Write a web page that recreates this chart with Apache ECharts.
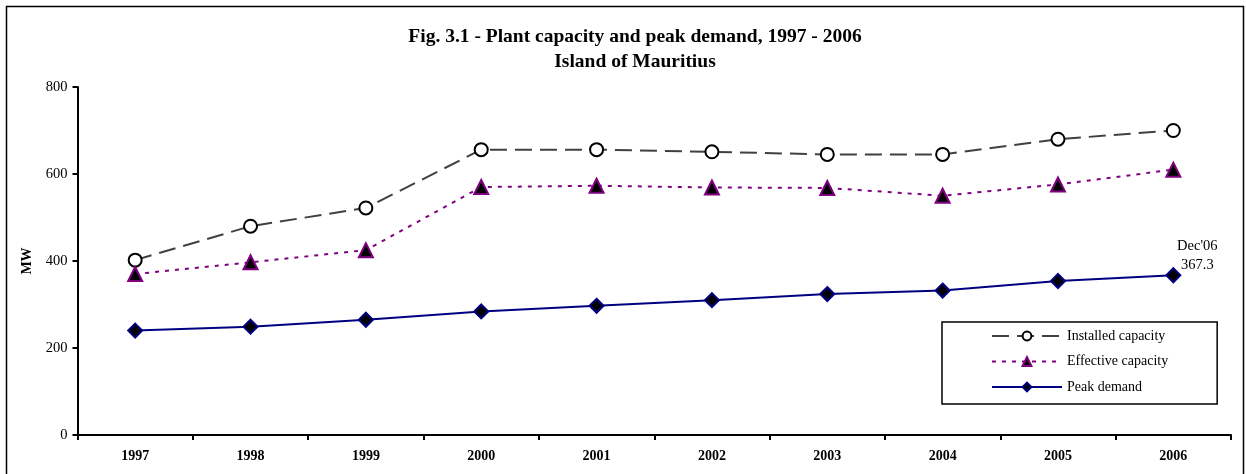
<!DOCTYPE html>
<html>
<head>
<meta charset="utf-8">
<script src="https://cdn.jsdelivr.net/npm/echarts@6/dist/echarts.min.js"></script>
<style>
	html, body { margin: 0; padding: 0; background: #fff; }
	#chart { width: 1246px; height: 474px; }
</style>
</head>
<body>
<div id="chart"></div>
<script>
// data
const years = ['1997', '1998', '1999', '2000', '2001', '2002', '2003', '2004', '2005', '2006'];
const installedCapacity = [402, 480, 522, 656, 656, 651, 645, 645, 680, 700];
const effectiveCapacity = [370, 397, 425, 570, 573, 569, 568, 550, 576, 610];
const peakDemand = [240, 249, 265, 284, 297, 310, 324, 332, 354, 367.3];
const yTicks = [0, 200, 400, 600, 800];

const serif = '"Liberation Serif", "DejaVu Serif", serif';

const chart = echarts.init(document.getElementById('chart'));

// last point of peak demand gets the Dec'06 note
const peakData = peakDemand.map((v, i) => {
	if (i !== peakDemand.length - 1) return v;
	return {
		value: v,
		label: {
			show: true,
			position: 'top',
			offset: [24, 12],
			formatter: "Dec'06\n{c}",
			fontFamily: serif,
			fontSize: 14.5,
			lineHeight: 19,
			color: '#000',
		},
	};
});

const option = {
	animation: false,
	backgroundColor: '#fff',
	graphic: [
		{
			type: 'rect',
			shape: { x: 6.5, y: 6.5, width: 1237, height: 480 },
			style: { fill: 'none', stroke: '#000', lineWidth: 1.5 },
			silent: true,
		},
	],
	title: {
		text: 'Fig. 3.1 - Plant capacity and peak demand, 1997 - 2006\nIsland of Mauritius',
		left: 630,
		top: 19,
		textAlign: 'center',
		textStyle: {
			fontFamily: serif,
			fontSize: 19.5,
			fontWeight: 'bold',
			lineHeight: 25,
			color: '#000',
		},
	},
	legend: {
		orient: 'vertical',
		left: 942,
		top: 322,
		padding: [7, 49, 10, 49],
		itemWidth: 70,
		itemHeight: 11,
		itemGap: 11.5,
		borderColor: '#000',
		borderWidth: 1.5,
		textStyle: { fontFamily: serif, fontSize: 14, color: '#000' },
		data: ['Installed capacity', 'Effective capacity', 'Peak demand'],
	},
	grid: {
		left: 77.5,
		right: 15,
		top: 87,
		bottom: 39,
	},
	xAxis: {
		type: 'category',
		data: years,
		boundaryGap: true,
		axisLine: { lineStyle: { color: '#000', width: 2 } },
		axisTick: { show: true, inside: false, length: 5, lineStyle: { color: '#000', width: 2 } },
		axisLabel: {
			fontFamily: serif,
			fontSize: 14,
			fontWeight: 'bold',
			color: '#000',
			margin: 14,
		},
		splitLine: { show: false },
	},
	yAxis: {
		type: 'value',
		min: yTicks[0],
		max: yTicks[yTicks.length - 1],
		interval: yTicks[1] - yTicks[0],
		name: 'MW',
		nameLocation: 'middle',
		nameGap: 42,
		nameRotate: 90,
		nameTextStyle: { fontFamily: serif, fontSize: 14, fontWeight: 'bold', color: '#000' },
		axisLine: { show: true, lineStyle: { color: '#000', width: 2 } },
		axisTick: { show: true, length: 5, lineStyle: { color: '#000', width: 2 } },
		axisLabel: { fontFamily: serif, fontSize: 14.5, color: '#000', margin: 10 },
		splitLine: { show: false },
	},
	series: [
		{
			name: 'Installed capacity',
			type: 'line',
			data: installedCapacity,
			symbol: 'circle',
			symbolSize: 13,
			itemStyle: { color: '#fff', borderColor: '#000', borderWidth: 2 },
			lineStyle: { color: '#404040', width: 2, type: [17, 8] },
			z: 3,
		},
		{
			name: 'Effective capacity',
			type: 'line',
			data: effectiveCapacity,
			symbol: 'triangle',
			symbolSize: 14,
			itemStyle: { color: '#000', borderColor: '#800080', borderWidth: 2 },
			lineStyle: { color: '#800080', width: 2, type: [4, 6] },
			z: 3,
		},
		{
			name: 'Peak demand',
			type: 'line',
			data: peakData,
			symbol: 'diamond',
			symbolSize: 14,
			itemStyle: { color: '#000', borderColor: '#000080', borderWidth: 2 },
			lineStyle: { color: '#000080', width: 2 },
			z: 3,
		},
	],
};

chart.setOption(option);
</script>
</body>
</html>
